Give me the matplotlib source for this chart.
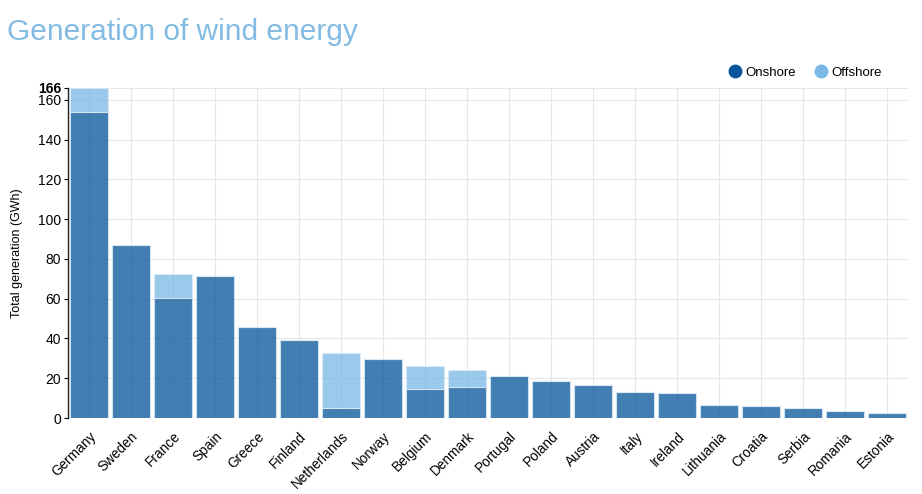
import numpy as np
import matplotlib
matplotlib.use("Agg")
from matplotlib import pyplot as plt
from matplotlib.lines import Line2D

plt.rcParams['font.family'] = ['Liberation Sans', 'DejaVu Sans']

# data
countries = ["Germany", "Sweden", "France", "Spain", "Greece", "Finland",
             "Netherlands", "Norway", "Belgium", "Denmark", "Portugal", "Poland",
             "Austria", "Italy", "Ireland", "Lithuania", "Croatia", "Serbia",
             "Romania", "Estonia"]
onshore = [153.7, 87.2, 60.4, 71.2, 45.6, 39.4, 5.1, 29.5, 14.8, 15.7,
           20.9, 18.7, 16.5, 13.0, 12.6, 6.7, 6.1, 4.9, 3.5, 2.7]
offshore = [12.3, 0, 11.8, 0, 0, 0, 27.6, 0, 11.6, 8.2,
            0, 0, 0, 0, 0, 0, 0, 0, 0, 0]
yticks = [0, 20, 40, 60, 80, 100, 120, 140, 160, 166]

onColor = "#08559a"
offColor = "#7ab8e6"

fig = plt.figure(figsize=(9.22, 4.94), dpi=100)
ax = fig.add_axes([0.0738, 0.1538, 0.9112, 0.6682])

x = np.arange(len(countries))
ax.bar(x, onshore, width=0.9, color=onColor, alpha=0.76, edgecolor="#dcebf7", linewidth=0.8, zorder=2)
ax.bar(x, offshore, width=0.9, bottom=onshore, color=offColor, alpha=0.76, edgecolor="#dcebf7", linewidth=0.8, zorder=2)

ax.set_xlim(-0.5, len(countries) - 0.5)
ax.set_ylim(0, 166)
ax.set_yticks(yticks)
ax.set_xticks(x)
ax.set_xticklabels(countries, rotation=45, ha="right", rotation_mode="anchor", fontsize=9.8)
ax.tick_params(axis="y", labelsize=10, length=3, pad=2)
ax.tick_params(axis="x", length=0, pad=8)
for lbl in ax.get_yticklabels():
    if lbl.get_text() == "166":
        lbl.set_fontweight("bold")

ax.grid(True, color="#e6e6e6", linewidth=0.8, zorder=0)
ax.set_axisbelow(True)
for s in ["top", "right", "bottom"]:
    ax.spines[s].set_visible(False)
ax.spines["left"].set_color("#222222")
ax.spines["left"].set_linewidth(1.0)

ax.set_ylabel("Total generation (GWh)", fontsize=9, labelpad=11)

fig.text(0.008, 0.935, "Generation of wind energy", fontsize=21.5, color="#82bbe3", va="center", ha="left")

handles = [Line2D([], [], marker="o", linestyle="none", markersize=9, color=onColor),
           Line2D([], [], marker="o", linestyle="none", markersize=9, color=offColor)]
fig.legend(handles, ["Onshore", "Offshore"], loc="center right", bbox_to_anchor=(0.962, 0.853),
           ncol=2, frameon=False, fontsize=9.5, handlelength=0.7, handletextpad=0.45,
           columnspacing=1.5, borderaxespad=0)

plt.savefig("out.png", dpi=100)
